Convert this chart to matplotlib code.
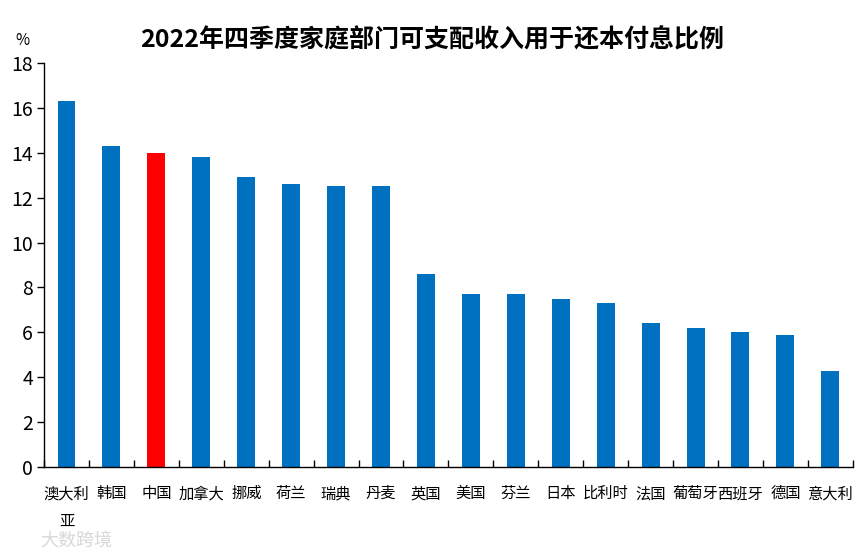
import matplotlib
matplotlib.use("Agg")
import matplotlib.pyplot as plt
import numpy as np

plt.rcParams['font.family'] = ['Noto Sans CJK SC', 'DejaVu Sans']

countries = ["澳大利\n亚", "韩国", "中国", "加拿大", "挪威", "荷兰", "瑞典", "丹麦", "英国",
             "美国", "芬兰", "日本", "比利时", "法国", "葡萄牙", "西班牙", "德国", "意大利"]
values = [16.3, 14.3, 14.0, 13.8, 12.9, 12.6, 12.5, 12.5, 8.6,
          7.7, 7.7, 7.5, 7.3, 6.4, 6.2, 6.0, 5.9, 4.3]
highlight = "中国"
yticks = [0, 2, 4, 6, 8, 10, 12, 14, 16, 18]

fig = plt.figure(figsize=(8.65, 5.56), dpi=100)
ax = fig.add_axes([0.0509, 0.160, 0.935, 0.7267])

x = np.arange(len(countries))
colors = ["#FF0000" if c == highlight else "#0070C0" for c in countries]
ax.bar(x, values, width=0.4, color=colors)

ax.set_xlim(-0.5, len(countries) - 0.5)
ax.set_ylim(0, 18)
ax.set_yticks(yticks)
ax.set_yticklabels([str(v) for v in yticks], fontsize=14)

ax.set_xticks(x)
ax.set_xticklabels(countries, fontsize=11, linespacing=1.85, va='top')
ax.tick_params(axis='x', which='major', length=0, pad=13)
ax.set_xticks(np.arange(-0.5, len(countries), 1), minor=True)
ax.tick_params(axis='x', which='minor', direction='in', length=5, width=1)
ax.tick_params(axis='y', direction='out', length=5, width=1, pad=3)

for s in ['top', 'right']:
    ax.spines[s].set_visible(False)
for s in ['left', 'bottom']:
    ax.spines[s].set_linewidth(1)
    ax.spines[s].set_color('black')

fig.text(0.5, 0.928, "2022年四季度家庭部门可支配收入用于还本付息比例", ha='center', va='center',
         fontsize=18, fontweight='bold')
fig.text(0.026, 0.928, "%", ha='center', va='center', fontsize=11)
fig.text(0.047, 0.027, "大数跨境", ha='left', va='center', fontsize=13, color='#d8d8d8')

fig.savefig("out.png", dpi=100)
